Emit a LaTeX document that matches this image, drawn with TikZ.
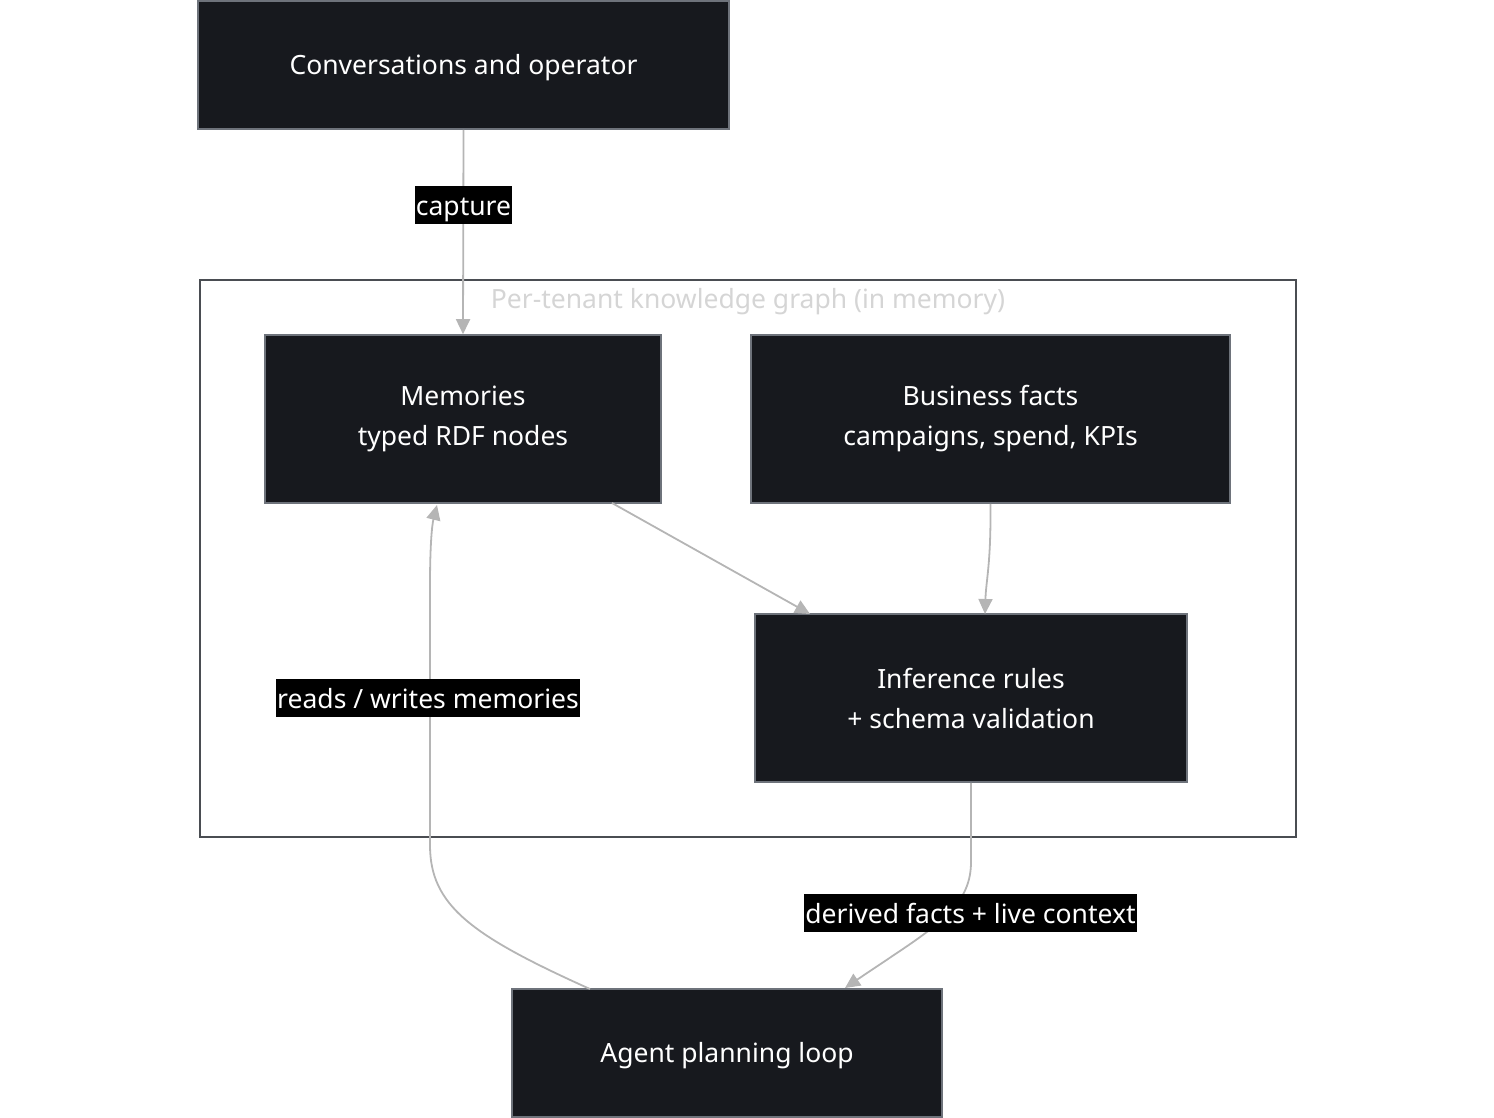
\documentclass[tikz,border=0pt]{standalone}
\usepackage{fontspec}
\setmainfont{Noto Sans}
\usetikzlibrary{arrows.meta}
\definecolor{nodefill}{HTML}{17191E}
\definecolor{nodeedge}{HTML}{6E737B}
\definecolor{edgecol}{HTML}{B5B5B5}
\definecolor{clusteredge}{HTML}{4A4D52}
\definecolor{titlecol}{HTML}{D5D5D5}
\begin{document}
\begin{tikzpicture}[x=1pt,y=-1pt,
  box/.style={draw=nodeedge,line width=1.6pt,fill=nodefill,text=white,align=center,font=\fontsize{26.5}{40}\selectfont,inner sep=0pt},
  oneline/.style={text height=26pt,text depth=6.5pt},
  conn/.style={draw=edgecol,line width=1.8pt,-{Triangle[length=15pt,width=14pt]}},
  lbl/.style={fill=black,text=white,font=\fontsize{26.5}{30}\selectfont,inner xsep=1pt,inner ysep=0pt,minimum height=38pt,text height=27pt,text depth=6.5pt}]
\useasboundingbox (0,0) rectangle (1494,1118);
\node[draw=clusteredge,line width=1.6pt,minimum width=1096pt,minimum height=557pt,inner sep=0pt] (cluster) at (748,558.5) {};
\node[text=titlecol,font=\fontsize{26.5}{30}\selectfont] (ctitle) at (748,302) {Per-tenant knowledge graph (in memory)};
\node[box,oneline,minimum width=531pt,minimum height=128pt] (conv) at (463.5,65) {Conversations and operator};
\node[box,minimum width=396pt,minimum height=168pt] (mem) at (463,419) {Memories\\typed RDF nodes};
\node[box,minimum width=479pt,minimum height=168pt] (biz) at (990.5,419) {Business facts\\campaigns, spend, KPIs};
\node[box,minimum width=432pt,minimum height=168pt] (inf) at (971,698) {Inference rules\\+ schema validation};
\node[box,oneline,minimum width=430pt,minimum height=128pt] (agent) at (727,1053) {Agent planning loop};
\draw[conn] (conv.south) -- (mem.north);
\draw[conn] (612,503) -- (810,614);
\draw[conn] (biz.south) .. controls (991,565) and (986,580) .. (985,614);
\draw[conn] (inf.south) -- (971,862) .. controls (971,910) and (930,930) .. (845,988);
\draw[conn] (590,989) .. controls (470,935) and (430,905) .. (430,845) -- (430,585) .. controls (430,545) and (432,525) .. (437,505);
\node[lbl] (l1) at (463.5,205) {capture};
\node[lbl] (l2) at (428,698) {reads / writes memories};
\node[lbl] (l3) at (970.5,913) {derived facts + live context};
\end{tikzpicture}
\end{document}
